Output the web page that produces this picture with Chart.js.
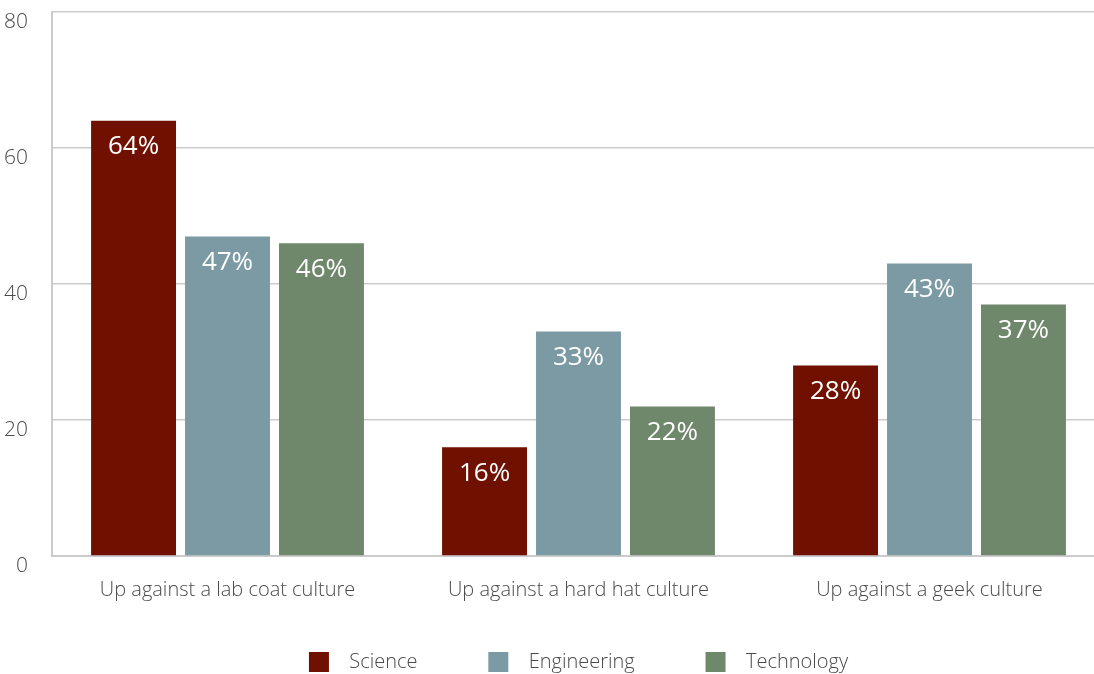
<!DOCTYPE html>
<html lang="en">
  <head>
    <meta charset="UTF-8" />
    <title>Up against a culture</title>
    <script src="https://cdn.jsdelivr.net/npm/chart.js"></script>
    <style>
      html, body { margin: 0; padding: 0; background: #fff; overflow: hidden; }
      /* the plot runs a little past the right edge of the frame */
      #wrap { width: 1094px; height: 674px; overflow: hidden; }
    </style>
  </head>
  <body>
    <div id="wrap"><canvas id="cultureChart" width="1105" height="674"></canvas></div>

    <script>
      // categories and series
      const categories = [
        "Up against a lab coat culture",
        "Up against a hard hat culture",
        "Up against a geek culture",
      ];
      const science = [64, 16, 28];
      const engineering = [47, 33, 43];
      const technology = [46, 22, 37];
      const yTicks = [0, 20, 40, 60, 80];

      const textFont = "'Open Sans', 'Noto Sans', sans-serif";
      const gridColor = "#cbcbcb";

      // value labels inside the top of each bar
      const barLabels = {
        id: "barLabels",
        afterDatasetsDraw(chart) {
          const ctx = chart.ctx;
          ctx.save();
          ctx.fillStyle = "#ffffff";
          ctx.font = "26px " + textFont;
          ctx.textAlign = "center";
          ctx.textBaseline = "middle";
          chart.data.datasets.forEach((ds, i) => {
            chart.getDatasetMeta(i).data.forEach((bar, j) => {
              ctx.fillText(ds.data[j] + "%", bar.x, bar.y + 26);
            });
          });
          ctx.restore();
        },
      };

      const ctx = document.getElementById("cultureChart").getContext("2d");
      new Chart(ctx, {
        type: "bar",
        data: {
          labels: categories,
          datasets: [
            { label: "Science", data: science, backgroundColor: "#701000" },
            { label: "Engineering", data: engineering, backgroundColor: "#7b9aa4" },
            { label: "Technology", data: technology, backgroundColor: "#6f876a" },
          ],
        },
        options: {
          responsive: false,
          animation: false,
          layout: { padding: { top: 12, right: 0, left: 0, bottom: -8 } },
          datasets: {
            bar: { categoryPercentage: 0.803, barPercentage: 0.904 },
          },
          scales: {
            x: {
              afterFit(scale) {
                scale.height = 46;
              },
              grid: { display: false, drawTicks: false },
              border: { display: true, color: gridColor, width: 2 },
              ticks: {
                padding: 24,
                color: "#4a4a4a",
                font: { family: textFont, size: 20, weight: 300, lineHeight: 1 },
              },
            },
            y: {
              min: 0,
              max: 80,
              afterBuildTicks(scale) {
                scale.ticks = yTicks.map((v) => ({ value: v }));
              },
              afterFit(scale) {
                scale.width = 52;
                scale.paddingTop = 0;
                scale.paddingBottom = 0;
              },
              grid: { color: gridColor, lineWidth: 1.5, drawTicks: false },
              border: { display: true, color: gridColor, width: 2 },
              ticks: {
                padding: 24,
                labelOffset: 10,
                color: "#4a4a4a",
                font: { family: textFont, size: 21, weight: 300 },
              },
            },
          },
          plugins: {
            tooltip: { enabled: false },
            legend: {
              position: "bottom",
              fullSize: false,
              labels: {
                boxWidth: 20,
                boxHeight: 20,
                padding: 50,
                color: "#4a4a4a",
                font: { family: textFont, size: 20, weight: 300 },
                // extra room around each series name
                generateLabels(chart) {
                  const items = Chart.defaults.plugins.legend.labels.generateLabels(chart);
                  return items.map((item, i) => ({
                    ...item,
                    text: "  " + item.text + (i < items.length - 1 ? "    " : ""),
                  }));
                },
              },
            },
          },
        },
        plugins: [barLabels],
      });
    </script>
  </body>
</html>
